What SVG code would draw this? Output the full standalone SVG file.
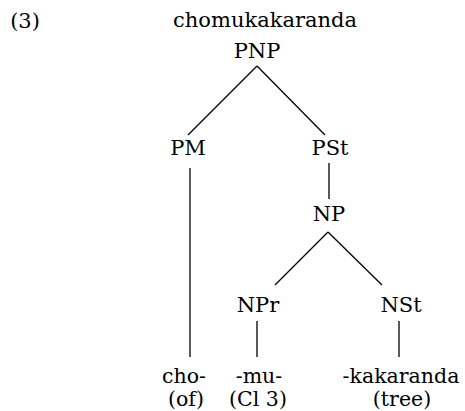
<svg xmlns="http://www.w3.org/2000/svg" width="465" height="411" viewBox="0 0 465 411">
<style>
text{font-family:"DejaVu Serif","Liberation Serif",serif;font-size:21px;fill:#000;text-anchor:middle}
.leaf text{font-size:20.5px}
.e line{stroke:#000;stroke-width:1.3;stroke-linecap:butt}
</style>
<rect width="465" height="411" fill="#fff"/>
<g id="label"><text x="25" y="28">(3)</text></g>
<g id="word"><text x="265" y="27">chomukakaranda</text></g>
<g id="PNP"><text x="257" y="58">PNP</text></g>
<g id="PM"><text x="188" y="155">PM</text></g>
<g id="PSt"><text x="330" y="155">PSt</text></g>
<g id="NP"><text x="329" y="221">NP</text></g>
<g id="NPr"><text x="258" y="312">NPr</text></g>
<g id="NSt"><text x="401" y="312">NSt</text></g>
<g id="cho" class="leaf"><text x="184" y="383">cho-</text><text x="186" y="406">(of)</text></g>
<g id="mu" class="leaf"><text x="259" y="383">-mu-</text><text x="258" y="406">(Cl 3)</text></g>
<g id="kakaranda" class="leaf"><text x="401" y="383">-kakaranda</text><text x="402" y="406">(tree)</text></g>
<g id="connectors" class="e">
<line x1="257" y1="66" x2="188" y2="135"/>
<line x1="257" y1="66" x2="325" y2="135"/>
<line x1="190" y1="168" x2="190" y2="357"/>
<line x1="329" y1="163" x2="329" y2="199"/>
<line x1="328" y1="232" x2="275" y2="285"/>
<line x1="328" y1="232" x2="382" y2="285"/>
<line x1="257" y1="321" x2="257" y2="357"/>
<line x1="399" y1="321" x2="399" y2="357"/>
</g>
</svg>
